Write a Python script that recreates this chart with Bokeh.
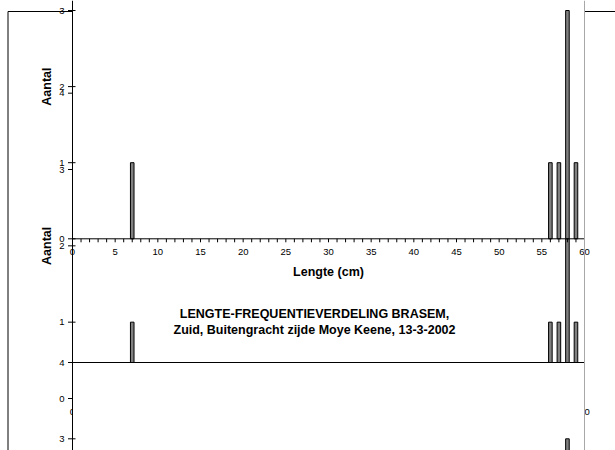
import numpy as np
from bokeh.plotting import figure
from bokeh.models import Range1d, Span
from bokeh.core.properties import value
from bokeh.embed import file_html
from bokeh.resources import INLINE

# ---------------- data ----------------
lengths = [7, 56, 57, 58, 59]          # Lengte (cm)
counts = [1, 1, 1, 3, 1]               # Aantal
x_minor_ticks = list(range(0, 61, 1))
x_major_ticks = list(range(0, 61, 5))
x_tick_labels = [str(v) for v in x_major_ticks]
y_ticks_top = [0, 1, 2, 3]
y_ticks_mid = [0, 1, 2, 3, 4]
y_ticks_bot = [3, 4]
x_title = "Lengte (cm)"
y_title = "Aantal"
title_lines = ["LENGTE-FREQUENTIEVERDELING BRASEM,",
               "Zuid, Buitengracht zijde Moye Keene, 13-3-2002"]

# ---------------- layout (page pixels) ----------------
W, H, M = 615, 450, 0
X0_PX, X60_PX = 72.0, 584.0
SX = (X60_PX - X0_PX) / 60.0
# vertical calibrations of the three overlapping charts
TOP_Y0, TOP_S = 238.3, 76.1     # y=0 at 238.3 px
MID_Y0, MID_S = 398.0, 76.33
BOT_Y0, BOT_S = 667.2, 76.3

def xd(px):
    return (px - X0_PX) / SX

def yd(px, y0, s):
    return (y0 - px) / s

FONT = value("Liberation Sans")

p = figure(width=W, height=H, output_backend="svg", toolbar_location=None,
           x_axis_type=None, y_axis_type=None,
           x_range=Range1d(xd(M), xd(M + W)),
           y_range=Range1d(yd(M + H, TOP_Y0, TOP_S), yd(M, TOP_Y0, TOP_S)),
           min_border=0)
p.extra_y_ranges = {
    "mid": Range1d(yd(M + H, MID_Y0, MID_S), yd(M, MID_Y0, MID_S)),
    "bot": Range1d(yd(M + H, BOT_Y0, BOT_S), yd(M, BOT_Y0, BOT_S)),
}
p.outline_line_color = None
p.grid.visible = False
p.background_fill_color = "white"
p.border_fill_color = "white"

# outer chart frame (mostly hidden)
p.quad(left=xd(7.5), right=xd(M + W + 40), top=yd(11, TOP_Y0, TOP_S),
       bottom=yd(M + H + 40, TOP_Y0, TOP_S), fill_color=None, line_color="black", line_width=1)

def draw_chart(rname, y0, s, yticks):
    kw = {} if rname is None else {"y_range_name": rname}
    # bars
    p.vbar(x=lengths, top=counts, bottom=0, width=0.42, fill_color="#808080",
           line_color="black", line_width=1, **kw)
    # x axis line and ticks
    p.segment(x0=[0], y0=[0], x1=[60], y1=[0], line_color="black", line_width=1, **kw)
    p.segment(x0=x_minor_ticks, y0=[0] * len(x_minor_ticks), x1=x_minor_ticks,
              y1=[-3.5 / s] * len(x_minor_ticks), line_color="black", line_width=1, **kw)
    p.text(x=x_major_ticks, y=[-13.4 / s] * len(x_major_ticks), text=x_tick_labels,
           text_font=FONT, text_font_size="9.5px", text_align="center",
           text_baseline="middle", text_color="black", **kw)
    # y ticks and labels
    p.segment(x0=[-4.5 / SX] * len(yticks), y0=yticks, x1=[3.0 / SX] * len(yticks), y1=yticks,
              line_color="black", line_width=1, **kw)
    p.text(x=[-8.0 / SX] * len(yticks), y=yticks, text=[str(v) for v in yticks],
           text_font=FONT, text_font_size="9.5px", text_align="right",
           text_baseline="middle", text_color="black", **kw)
    # axis titles
    p.text(x=[xd(46.7)], y=[2], text=[y_title], angle=np.pi / 2, text_font=FONT,
           text_font_size="12.5px", text_font_style="bold", text_align="center",
           text_baseline="middle", text_color="black", **kw)
    p.text(x=[30], y=[-33.4 / s], text=[x_title], text_font=FONT,
           text_font_size="12.5px", text_font_style="bold", text_align="center",
           text_baseline="middle", text_color="black", **kw)

# middle chart (lowest layer)
draw_chart("mid", MID_Y0, MID_S, y_ticks_mid)

# top chart: white plot area then content
p.quad(left=0, right=60, bottom=0, top=4.2, fill_color="white", line_color=None)
draw_chart(None, TOP_Y0, TOP_S, y_ticks_top)

# bottom chart: white plot area with top edge, then content
p.quad(left=0, right=60, bottom=-1, top=4, fill_color="white", line_color=None,
       y_range_name="bot")
p.segment(x0=[0], y0=[4], x1=[60], y1=[4], line_color="black", line_width=1,
          y_range_name="bot")
draw_chart("bot", BOT_Y0, BOT_S, y_ticks_bot)

# right plot-area borders
p.add_layout(Span(location=60, dimension="height", line_color="#a8a8a8", line_width=1))
p.segment(x0=[60], y0=[4], x1=[60], y1=[-1], line_color="#707070", line_width=1,
          y_range_name="mid")
# vertical value axis line
p.add_layout(Span(location=0, dimension="height", line_color="black", line_width=1))

# chart title
p.text(x=[xd(314)] * 2, y=[yd(313.5, TOP_Y0, TOP_S), yd(329.5, TOP_Y0, TOP_S)],
       text=title_lines, text_font=FONT, text_font_size="12.5px",
       text_font_style="bold", text_align="center", text_baseline="middle",
       text_color="black")

open("out.html", "w").write(file_html(p, INLINE))
